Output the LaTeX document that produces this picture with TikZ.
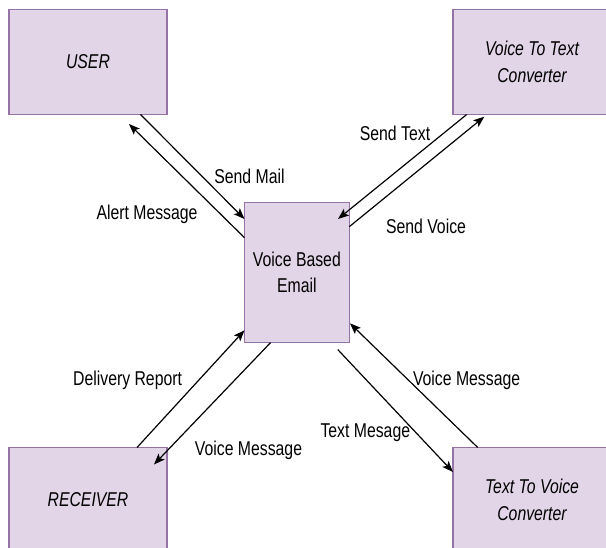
\documentclass[tikz,border=0pt]{standalone}
\usepackage{fontspec}
\setmainfont[FakeStretch=0.79]{Liberation Sans}
\usetikzlibrary{arrows.meta,calc}
\definecolor{boxfill}{HTML}{E1D5E7}
\definecolor{boxline}{HTML}{9673A6}
\begin{document}
\begin{tikzpicture}[x=1pt,y=-1pt,
  font=\fontsize{20}{26.5}\selectfont,
  box/.style={draw=boxline,fill=boxfill,line width=1.5pt,inner sep=0pt,outer sep=0pt,
    align=center,minimum width=158pt,minimum height=105pt},
  centrebox/.style={box,minimum width=104.8pt,minimum height=140.3pt},
  lbl/.style={inner sep=0pt,text height=14.3pt,text depth=0pt},
  arr/.style={line width=1.2pt,-{Stealth[length=11pt,width=8.5pt,inset=2.5pt]}}]
\useasboundingbox (0,0) rectangle (606,548);
\clip (0,0) rectangle (606,548);
% boxes
\node[box] (user) at (88,62) {\itshape USER};
\node[box] (vtt) at (532,62) {\itshape Voice To Text\\\itshape Converter};
\node[box] (recv) at (88,500) {\itshape RECEIVER};
\node[box] (ttv) at (532,500) {\itshape Text To Voice\\\itshape Converter};
\node[centrebox] (mail) at (296.9,272.45) {Voice Based\\Email};
% connectors
\draw[arr] ($(user.south west)+(131.5,0)$) -- ($(mail.north west)+(0,16.7)$);
\draw[arr] ($(mail.north west)+(0,35.4)$) -- ($(user.south west)+(120,9.5)$);
\draw[arr] ($(vtt.south west)+(13.7,0)$) -- ($(mail.north east)+(-11.3,16.7)$);
\draw[arr] ($(mail.north east)+(0,24.4)$) -- ($(vtt.south west)+(31.3,2.2)$);
\draw[arr] ($(recv.north west)+(128,0)$) -- ($(mail.south west)+(0,-12.3)$);
\draw[arr] ($(mail.south west)+(26.1,0)$) -- ($(recv.north west)+(145,17)$);
\draw[arr] ($(mail.south east)+(-11.5,7)$) -- ($(ttv.north west)+(0,24.5)$);
\draw[arr] ($(ttv.north west)+(24.7,0)$) -- ($(mail.south east)+(0.7,-19.3)$);
% labels
\node[lbl] (l1) at (249.5,176.7) {Send Mail};
\node[lbl] (l2) at (147,212.2) {Alert Message};
\node[lbl] (l3) at (395,133.3) {Send Text};
\node[lbl] (l4) at (426,226) {Send Voice};
\node[lbl] (l5) at (127.6,378.2) {Delivery Report};
\node[lbl] (l6) at (248.5,448.4) {Voice Message};
\node[lbl] (l7) at (365.3,430.6) {Text Mesage};
\node[lbl] (l8) at (466.6,378.2) {Voice Message};
\end{tikzpicture}
\end{document}
